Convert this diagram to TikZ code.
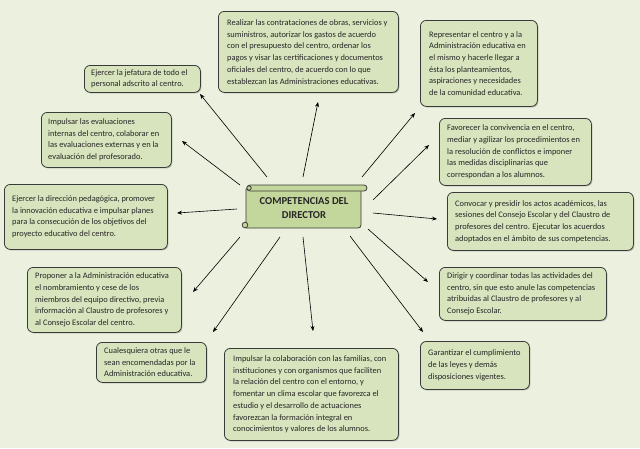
\documentclass[tikz,border=0pt]{standalone}
\usepackage{fontspec}
\setmainfont{Carlito}
\usetikzlibrary{arrows.meta,shadows}
\definecolor{bgc}{HTML}{EBF1DE}
\definecolor{boxc}{HTML}{D7E4BD}
\definecolor{scrollc}{HTML}{C3D69B}
\definecolor{txtc}{HTML}{262626}
\definecolor{edgec}{HTML}{3A3A3A}
\begin{document}
\begin{tikzpicture}[x=1pt,y=-1pt,
  box/.style={draw=edgec,line width=0.8pt,fill=boxc,rounded corners=6pt,anchor=north west,inner sep=0pt,
    drop shadow={shadow xshift=1pt,shadow yshift=-1pt,fill=black,opacity=0.25}},
  txt/.style={anchor=west,align=left,inner sep=0pt,text=txtc,font=\fontsize{8.4}{11.7}\selectfont},
  arr/.style={draw=black,line width=0.6pt,-{Stealth[length=5pt,width=4pt]}}]
\fill[bgc] (0,0) rectangle (640,448);
\useasboundingbox (0,0) rectangle (640,448);
% boxes
\node[box,minimum width=116pt,minimum height=27pt] (b1) at (84,65) {};
\node[box,minimum width=180pt,minimum height=81pt] (b2) at (218,11) {};
\node[box,minimum width=117pt,minimum height=86pt] (b3) at (420,20) {};
\node[box,minimum width=130pt,minimum height=55pt] (b4) at (41,112) {};
\node[box,minimum width=152pt,minimum height=67pt] (b5) at (439,118) {};
\node[box,minimum width=163pt,minimum height=65pt] (b6) at (4,184) {};
\node[box,minimum width=186pt,minimum height=58pt] (b7) at (447,192) {};
\node[box,minimum width=154pt,minimum height=65pt] (b8) at (27,267) {};
\node[box,minimum width=167pt,minimum height=53pt] (b9) at (439,267) {};
\node[box,minimum width=110pt,minimum height=40pt] (b10) at (96,342) {};
\node[box,minimum width=174pt,minimum height=92pt] (b11) at (224,348) {};
\node[box,minimum width=109pt,minimum height=48pt] (b12) at (420,341) {};
% texts
\node[txt] (t1) at ([xshift=7pt]b1.west) {Ejercer la jefatura de todo el\\personal adscrito al centro.};
\node[txt] (t2) at ([xshift=9pt]b2.west) {Realizar las contrataciones de obras, servicios y\\suministros, autorizar los gastos de acuerdo\\con el presupuesto del centro, ordenar los\\pagos y visar las certificaciones y documentos\\oficiales del centro, de acuerdo con lo que\\establezcan las Administraciones educativas.};
\node[txt] (t3) at ([xshift=9pt]b3.west) {Representar el centro y a la\\Administración educativa en\\el mismo y hacerle llegar a\\ésta los planteamientos,\\aspiraciones y necesidades\\de la comunidad educativa.};
\node[txt] (t4) at ([xshift=7pt]b4.west) {Impulsar las evaluaciones\\internas del centro, colaborar en\\las evaluaciones externas y en la\\evaluación del profesorado.};
\node[txt] (t5) at ([xshift=8pt]b5.west) {Favorecer la convivencia en el centro,\\mediar y agilizar los procedimientos en\\la resolución de conflictos e imponer\\las medidas disciplinarias que\\correspondan a los alumnos.};
\node[txt] (t6) at ([xshift=8pt]b6.west) {Ejercer la dirección pedagógica, promover\\la innovación educativa e impulsar planes\\para la consecución de los objetivos del\\proyecto educativo del centro.};
\node[txt] (t7) at ([xshift=8pt]b7.west) {Convocar y presidir los actos académicos, las\\sesiones del Consejo Escolar y del Claustro de\\profesores del centro. Ejecutar los acuerdos\\adoptados en el ámbito de sus competencias.};
\node[txt] (t8) at ([xshift=8pt]b8.west) {Proponer a la Administración educativa\\el nombramiento y cese de los\\miembros del equipo directivo, previa\\información al Claustro de profesores y\\al Consejo Escolar del centro.};
\node[txt] (t9) at ([xshift=8pt]b9.west) {Dirigir y coordinar todas las actividades del\\centro, sin que esto anule las competencias\\atribuidas al Claustro de profesores y al\\Consejo Escolar.};
\node[txt] (t10) at ([xshift=8pt]b10.west) {Cualesquiera otras que le\\sean encomendadas por la\\Administración educativa.};
\node[txt] (t11) at ([xshift=9pt]b11.west) {Impulsar la colaboración con las familias, con\\instituciones y con organismos que faciliten\\la relación del centro con el entorno, y\\fomentar un clima escolar que favorezca el\\estudio y el desarrollo de actuaciones\\favorezcan la formación integral en\\conocimientos y valores de los alumnos.};
\node[txt] (t12) at ([xshift=8pt]b12.west) {Garantizar el cumplimiento\\de las leyes y demás\\disposiciones vigentes.};
% central scroll
\begin{scope}[draw=edgec,line width=0.8pt]
\filldraw[fill=scrollc] (246,189) -- (246,228) -- (358,228) to[out=0,in=-90] (361,225) -- (361,190) -- cycle;
\filldraw[fill=scrollc,rounded corners=3pt] (247,185) rectangle (367,191);
\filldraw[fill=scrollc] (249,188) circle[radius=2.2];
\filldraw[fill=scrollc] (245,225) circle[radius=2.8];
\end{scope}
\node[inner sep=0pt,align=center,text=txtc,font=\bfseries\fontsize{10.6}{14}\selectfont] (c) at (304,208) {COMPETENCIAS DEL\\DIRECTOR};
% arrow coordinates
\coordinate (s1) at (267,177); \coordinate (e1) at (200,94);
\coordinate (s2) at (303,177); \coordinate (e2) at (318,102);
\coordinate (s3) at (362,177); \coordinate (e3) at (415,113);
\coordinate (s4) at (240,185); \coordinate (e4) at (182,141);
\coordinate (s5) at (373,200); \coordinate (e5) at (429,145);
\coordinate (s6) at (237,209); \coordinate (e6) at (177,213);
\coordinate (s7) at (373,213); \coordinate (e7) at (437,219);
\coordinate (s8) at (240,237); \coordinate (e8) at (193,292);
\coordinate (s9) at (368,229); \coordinate (e9) at (428,282);
\coordinate (s10) at (280,237); \coordinate (e10) at (213,332);
\coordinate (s11) at (303,237); \coordinate (e11) at (313,331);
\coordinate (s12) at (350,236); \coordinate (e12) at (423,332);
\foreach \i in {1,...,12} { \draw[arr] (s\i) -- (e\i); }
\end{tikzpicture}
\end{document}
